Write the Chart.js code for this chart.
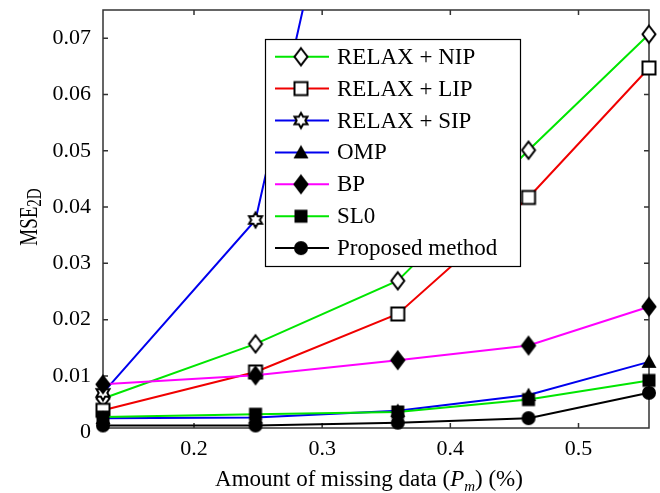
<!DOCTYPE html>
<html>
<head>
<meta charset="utf-8">
<script src="https://cdn.jsdelivr.net/npm/chart.js@4.4.1/dist/chart.umd.min.js"></script>
<style>
  html, body { margin: 0; padding: 0; background: #fff; }
</style>
</head>
<body>
<canvas id="mseChart" width="660" height="493"></canvas>
<script>
// missing-data ratio on x, MSE per method on y
const missingRate = [0.129, 0.248, 0.359, 0.461, 0.555];
const relaxNip = [0.0060, 0.0157, 0.0269, 0.0501, 0.0707];
const relaxLip = [0.0039, 0.0107, 0.0210, 0.0417, 0.0647];
const relaxSip = [0.0070, 0.0377, 0.1500, null, null];
const omp = [0.0025, 0.0026, 0.0038, 0.0066, 0.0125];
const bp = [0.0085, 0.0101, 0.0128, 0.0154, 0.0223];
const sl0 = [0.0027, 0.0032, 0.0036, 0.0058, 0.0092];
const proposed = [0.0012, 0.0012, 0.0017, 0.0025, 0.0070];

const xTicks = [0.2, 0.3, 0.4, 0.5];
const yTicks = [0, 0.01, 0.02, 0.03, 0.04, 0.05, 0.06, 0.07];

const SERIF = '"Liberation Serif", "Times New Roman", serif';

// small canvases used as point styles (and reused by the legend)
function marker(draw) {
  const c = document.createElement('canvas');
  c.width = 22; c.height = 22;
  const g = c.getContext('2d');
  g.translate(11, 11);
  g.lineWidth = 2;
  g.strokeStyle = '#000';
  g.fillStyle = '#000';
  g.lineJoin = 'miter';
  draw(g);
  return c;
}
function poly(g, pts) {
  g.beginPath();
  pts.forEach(([x, y], i) => i ? g.lineTo(x, y) : g.moveTo(x, y));
  g.closePath();
}
const diamondPts = [[0, -8.5], [6.5, 0], [0, 8.5], [-6.5, 0]];
const openDiamond = marker(g => { poly(g, diamondPts); g.fillStyle = '#fff'; g.fill(); g.stroke(); });
const openSquare = marker(g => { poly(g, [[-6.5, -6.5], [6.5, -6.5], [6.5, 6.5], [-6.5, 6.5]]); g.fillStyle = '#fff'; g.fill(); g.stroke(); });
const openHexagram = marker(g => {
  const pts = [];
  for (let k = 0; k < 12; k++) {
    const r = k % 2 ? 4.3 : 7.5;
    const a = -Math.PI / 2 + k * Math.PI / 6;
    pts.push([r * Math.cos(a), r * Math.sin(a)]);
  }
  poly(g, pts); g.fillStyle = '#fff'; g.fill(); g.stroke();
});
const solidTriangle = marker(g => { poly(g, [[0, -7.5], [7.5, 6], [-7.5, 6]]); g.fill(); });
const solidDiamond = marker(g => { poly(g, diamondPts); g.fill(); g.stroke(); });
const solidSquare = marker(g => { poly(g, [[-6.5, -6.5], [6.5, -6.5], [6.5, 6.5], [-6.5, 6.5]]); g.fill(); });
const solidCircle = marker(g => { g.beginPath(); g.arc(0, 0, 7, 0, Math.PI * 2); g.fill(); });

function series(label, values, color, style, order, clip) {
  return {
    label,
    data: values.map((v, i) => ({ x: missingRate[i], y: v })),
    borderColor: color,
    borderWidth: 2,
    pointStyle: style,
    pointRadius: 8,
    tension: 0,
    fill: false,
    order,
    clip: clip || { left: 15, right: 15, top: 15, bottom: 15 }
  };
}

const datasets = [
  series('RELAX + NIP', relaxNip, '#00e600', openDiamond, 6),
  series('RELAX + LIP', relaxLip, '#f00000', openSquare, 5),
  series('RELAX + SIP', relaxSip, '#0000ee', openHexagram, 4, { left: 15, right: 15, top: 0, bottom: 15 }),
  series('OMP', omp, '#0000ee', solidTriangle, 3),
  series('BP', bp, '#ff00ff', solidDiamond, 2),
  series('SL0', sl0, '#00e600', solidSquare, 1),
  series('Proposed method', proposed, '#000000', solidCircle, 0)
];

// axes box with inward tick marks
const axesBox = {
  id: 'axesBox',
  beforeDatasetsDraw(chart) {
    const { ctx, chartArea: a, scales } = chart;
    ctx.save();
    ctx.strokeStyle = '#333';
    ctx.lineWidth = 1.5;
    ctx.strokeRect(a.left, a.top, a.right - a.left, a.bottom - a.top);
    ctx.beginPath();
    xTicks.forEach(v => {
      const px = scales.x.getPixelForValue(v);
      ctx.moveTo(px, a.bottom); ctx.lineTo(px, a.bottom - 5);
      ctx.moveTo(px, a.top); ctx.lineTo(px, a.top + 5);
    });
    yTicks.forEach(v => {
      const py = scales.y.getPixelForValue(v);
      if (py > a.bottom || py < a.top) return;
      ctx.moveTo(a.left, py); ctx.lineTo(a.left + 5, py);
      ctx.moveTo(a.right, py); ctx.lineTo(a.right - 5, py);
    });
    ctx.stroke();
    ctx.restore();
  }
};

// draws a run of text pieces with their own fonts and vertical offsets
function drawRuns(ctx, runs, x, y) {
  let cx = x;
  runs.forEach(r => {
    ctx.font = r.font;
    ctx.fillText(r.text, cx, y + (r.dy || 0));
    cx += ctx.measureText(r.text).width;
  });
}
function runsWidth(ctx, runs) {
  return runs.reduce((w, r) => { ctx.font = r.font; return w + ctx.measureText(r.text).width; }, 0);
}

const axisTitles = {
  id: 'axisTitles',
  afterDraw(chart) {
    const { ctx } = chart;
    ctx.save();
    ctx.fillStyle = '#000';
    ctx.textBaseline = 'alphabetic';
    ctx.textAlign = 'left';
    const xRuns = [
      { text: 'Amount of missing data (', font: '23px ' + SERIF },
      { text: 'P', font: 'italic 23px ' + SERIF },
      { text: 'm', font: 'italic 15px ' + SERIF, dy: 5 },
      { text: ') (%)', font: '23px ' + SERIF }
    ];
    drawRuns(ctx, xRuns, 369 - runsWidth(ctx, xRuns) / 2, 486);

    // y title: glyphs drawn taller than wide, like the exported figure
    const yRuns = [
      { text: 'MSE', font: '19px ' + SERIF },
      { text: '2D', font: '15px ' + SERIF, dy: 3 }
    ];
    ctx.translate(37, 217);
    ctx.rotate(-Math.PI / 2);
    ctx.scale(1, 1.35);
    drawRuns(ctx, yRuns, -runsWidth(ctx, yRuns) / 2, 0);
    ctx.restore();
  }
};

const boxLegend = {
  id: 'boxLegend',
  afterDraw(chart) {
    const { ctx } = chart;
    ctx.save();
    ctx.fillStyle = '#fff';
    ctx.fillRect(265, 39, 255, 227);
    ctx.strokeStyle = '#000';
    ctx.lineWidth = 1.2;
    ctx.strokeRect(265.5, 39.5, 255, 227);
    ctx.font = '23px ' + SERIF;
    ctx.textBaseline = 'middle';
    chart.data.datasets.forEach((ds, i) => {
      const y = 56.7 + i * 31.9;
      ctx.strokeStyle = ds.borderColor;
      ctx.lineWidth = ds.borderWidth;
      ctx.beginPath();
      ctx.moveTo(275, y);
      ctx.lineTo(329, y);
      ctx.stroke();
      ctx.drawImage(ds.pointStyle, 301 - 11, y - 11);
      ctx.fillStyle = '#000';
      ctx.fillText(ds.label, 337, y + 1);
    });
    ctx.restore();
  }
};

new Chart(document.getElementById('mseChart').getContext('2d'), {
  type: 'line',
  data: { datasets },
  plugins: [axesBox, axisTitles, boxLegend],
  options: {
    responsive: false,
    animation: false,
    events: [],
    layout: { padding: { top: 8, right: 11, left: 0, bottom: 0 } },
    plugins: {
      legend: { display: false },
      tooltip: { enabled: false }
    },
    scales: {
      x: {
        type: 'linear',
        min: 0.129,
        max: 0.555,
        afterBuildTicks: s => { s.ticks = xTicks.map(v => ({ value: v })); },
        afterFit: s => { s.height = 65; s.paddingLeft = 0; s.paddingRight = 0; },
        grid: { display: false, drawTicks: false },
        border: { display: false },
        ticks: {
          color: '#000',
          font: { family: SERIF, size: 22 },
          padding: 8,
          maxRotation: 0,
          autoSkip: false,
          callback: v => String(v)
        }
      },
      y: {
        type: 'linear',
        min: 0.00075,
        max: 0.075,
        afterBuildTicks: s => { s.ticks = yTicks.map(v => ({ value: v })); },
        afterFit: s => { s.width = 103; s.paddingTop = 0; s.paddingBottom = 0; },
        grid: { display: false, drawTicks: false },
        border: { display: false },
        ticks: {
          color: '#000',
          font: { family: SERIF, size: 22 },
          padding: 12,
          autoSkip: false,
          callback: v => v === 0 ? '0' : v.toFixed(2)
        }
      }
    }
  }
});
</script>
</body>
</html>
